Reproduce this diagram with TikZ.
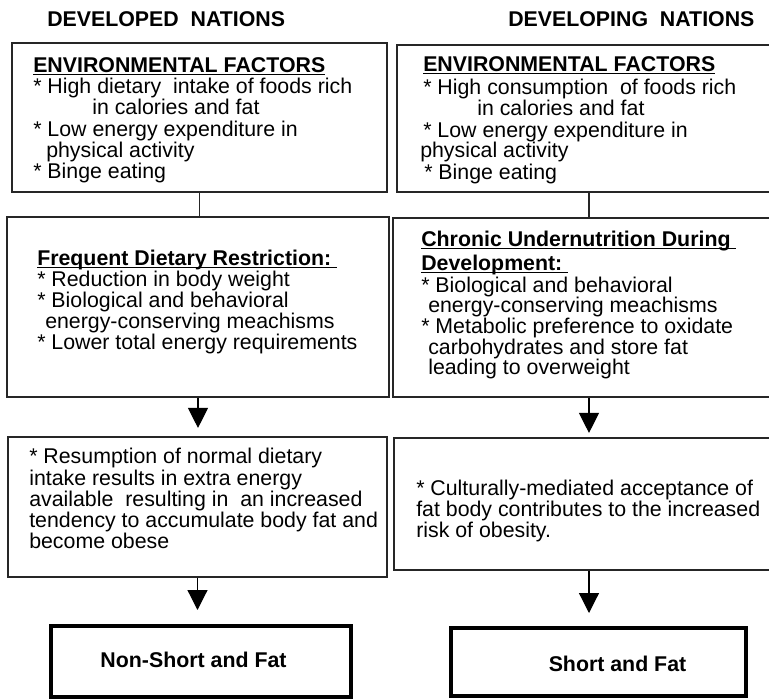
\documentclass[tikz,border=0pt]{standalone}
\usepackage{fontspec}
\setmainfont{Liberation Sans}
\usetikzlibrary{arrows.meta,fit}
\newcommand{\ulx}[1]{\setbox0\hbox{#1}\rlap{\rule[-2.4pt]{\wd0}{1.2pt}}\box0}
\begin{document}
\begin{tikzpicture}[x=0.75pt,y=-0.75pt,
  box/.style={draw=black!85, line width=0.8pt, inner sep=0pt},
  thickbox/.style={draw=black, line width=3pt, inner sep=0pt},
  txt/.style={anchor=base west, inner sep=0pt, font=\fontsize{16}{19}\selectfont},
  hd/.style={txt, font=\fontsize{16}{19}\selectfont\bfseries},
  lbl/.style={inner sep=0pt, font=\fontsize{16}{19}\selectfont\bfseries},
  conn/.style={draw=black!85, line width=0.9pt},
  arr/.style={draw=black, line width=0.9pt, -{Triangle[width=15pt,length=15pt]}}]
\clip (0,0) rectangle (769,700);
\fill[white] (0,0) rectangle (769,700);

% titles
\node[hd] (tl) at (47,26) {DEVELOPED\ \ NATIONS};
\node[hd] (tr) at (508,26) {DEVELOPING\ \ NATIONS};

% boxes
\node[box, fit={(12,43)(387,192)}] (lb1) {};
\node[box, fit={(7,217)(389,397)}] (lb2) {};
\node[box, fit={(8,437)(387,577)}] (lb3) {};
\node[thickbox, fit={(51,626)(351,697)}] (lt) {};
\node[box, fit={(397,45)(781,192)}] (rb1) {};
\node[box, fit={(393,218)(785,397)}] (rb2) {};
\node[box, fit={(394,438)(784,570)}] (rb3) {};
\node[thickbox, fit={(451,628)(746,696)}] (rt) {};

% left box 1
\node[hd] (l1a) at (33,72) {\ulx{ENVIRONMENTAL FACTORS}};
\node[txt] (l1b) at (33,93) {* High dietary\ \ intake of foods rich};
\node[txt] (l1c) at (92,114) {in calories and fat};
\node[txt] (l1d) at (33,136) {* Low energy expenditure in};
\node[txt] (l1e) at (46,157) {physical activity};
\node[txt] (l1f) at (33,178) {* Binge eating};

% right box 1
\node[hd] (r1a) at (423,71) {\ulx{ENVIRONMENTAL FACTORS}};
\node[txt] (r1b) at (423,94) {* High consumption\ \ of foods rich};
\node[txt] (r1c) at (477,115) {in calories and fat};
\node[txt] (r1d) at (423,137) {* Low energy expenditure in};
\node[txt] (r1e) at (420,157) {physical activity};
\node[txt] (r1f) at (424,179) {* Binge eating};

% left box 2
\node[hd] (l2a) at (37,265) {\ulx{Frequent Dietary Restriction:\ }};
\node[txt] (l2b) at (37,286) {* Reduction in body weight};
\node[txt] (l2c) at (37,307) {* Biological and behavioral};
\node[txt] (l2d) at (45,328) {energy-conserving meachisms};
\node[txt] (l2e) at (37,349) {* Lower total energy requirements};

% right box 2
\node[hd] (r2a) at (421,246) {\ulx{Chronic Undernutrition During\ }};
\node[hd] (r2b) at (421,270) {\ulx{Development:\ }};
\node[txt] (r2c) at (421,292) {* Biological and behavioral};
\node[txt] (r2d) at (428,312) {energy-conserving meachisms};
\node[txt] (r2e) at (421,333) {* Metabolic preference to oxidate};
\node[txt] (r2f) at (428,354) {carbohydrates and store fat};
\node[txt] (r2g) at (428,374) {leading to overweight};

% left box 3
\node[txt] (l3a) at (29,463) {* Resumption of normal dietary};
\node[txt] (l3b) at (29,485) {intake results in extra energy};
\node[txt] (l3c) at (29,506) {available\ \ resulting in\ \ an increased};
\node[txt] (l3d) at (29,527) {tendency to accumulate body fat and};
\node[txt] (l3e) at (29,548) {become obese};

% right box 3
\node[txt] (r3a) at (416,495) {* Culturally-mediated acceptance of};
\node[txt] (r3b) at (416,516) {fat body contributes to the increased};
\node[txt] (r3c) at (416,537) {risk of obesity.};

% outcome labels
\node[lbl] (ltl) at (193.5,659.5) {Non-Short and Fat};
\node[lbl] (rtl) at (617.5,663.5) {Short and Fat};

% connectors
\draw[conn] (lb1.south) -- (lb1.south |- lb2.north);
\draw[conn] (rb1.south) -- (rb2.north);
\draw[arr, shorten >=6.4pt] (lb2.south) -- (lb2.south |- lb3.north);
\draw[arr, shorten >=10.5pt] (lb3.south) -- (lb3.south |- lt.north);
\draw[arr, shorten >=3.4pt] (rb2.south) -- (rb3.north);
\draw[arr, shorten >=9.75pt] (rb3.south) -- (rb3.south |- rt.north);
\end{tikzpicture}
\end{document}
